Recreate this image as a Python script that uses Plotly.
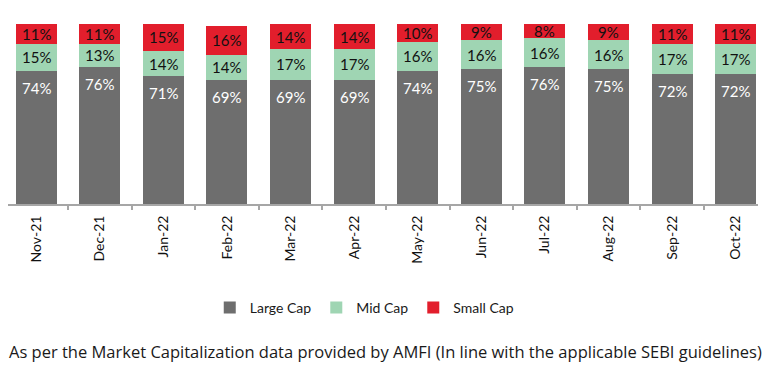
import plotly.graph_objects as go

months = ["Nov-21", "Dec-21", "Jan-22", "Feb-22", "Mar-22", "Apr-22",
          "May-22", "Jun-22", "Jul-22", "Aug-22", "Sep-22", "Oct-22"]
large_cap = [74, 76, 71, 69, 69, 69, 74, 75, 76, 75, 72, 72]
mid_cap = [15, 13, 14, 14, 17, 17, 16, 16, 16, 16, 17, 17]
small_cap = [11, 11, 15, 16, 14, 14, 10, 9, 8, 9, 11, 11]

C_LARGE = "#6e6e6e"
C_MID = "#9fd5b3"
C_SMALL = "#e21e2c"
LBL_FONT = "Lato"

fig = go.Figure()
fig.add_trace(go.Bar(name="Large Cap", x=months, y=large_cap, marker_color=C_LARGE,
                     marker_line_width=0, hoverinfo="skip"))
fig.add_trace(go.Bar(name="Mid Cap", x=months, y=mid_cap, marker_color=C_MID,
                     marker_line_width=0, hoverinfo="skip"))
fig.add_trace(go.Bar(name="Small Cap", x=months, y=small_cap, marker_color=C_SMALL,
                     marker_line_width=0, hoverinfo="skip"))

annotations = []
for m, l, md, s in zip(months, large_cap, mid_cap, small_cap):
    annotations.append(dict(x=m, y=l, yshift=-17, text=f"{l}%", showarrow=False,
                            font=dict(family=LBL_FONT, size=15, color="white"),
                            xref="x", yref="y", yanchor="middle"))
    annotations.append(dict(x=m, y=l + md / 2, text=f"{md}%", showarrow=False,
                            font=dict(family=LBL_FONT, size=15, color="#111111"),
                            xref="x", yref="y", yanchor="middle"))
    annotations.append(dict(x=m, y=l + md + s / 2, text=f"{s}%", showarrow=False,
                            font=dict(family=LBL_FONT, size=15, color="#111111"),
                            xref="x", yref="y", yanchor="middle"))

annotations.append(dict(
    text="As per the Market Capitalization data provided by AMFI (In line with the applicable SEBI guidelines)",
    xref="paper", yref="paper", x=0.503, y=-0.804, showarrow=False,
    xanchor="center", yanchor="middle",
    font=dict(family="Open Sans", size=16.5, color="#1a1a1a")))

fig.update_layout(
    barmode="stack",
    bargap=0.355,
    width=769, height=375,
    margin=dict(l=8, r=11, t=20, b=171),
    paper_bgcolor="white", plot_bgcolor="white",
    showlegend=True,
    legend=dict(orientation="h", x=0.475, xanchor="center", y=-0.565, yanchor="middle",
                font=dict(family=LBL_FONT, size=14, color="#1a1a1a"),
                itemwidth=30, traceorder="normal"),
    annotations=annotations,
    xaxis=dict(range=[-0.443, 11.35], showline=True, linecolor="#a6a6a6", linewidth=2,
               ticks="outside", tickson="boundaries", ticklen=4, tickwidth=2,
               tickcolor="#a6a6a6", tickangle=-90, ticklabelstandoff=4,
               tickfont=dict(family=LBL_FONT, size=14, color="#111111"),
               showgrid=False, zeroline=False),
    yaxis=dict(range=[0, 102.2], visible=False, showgrid=False, zeroline=False),
)

fig.write_html("out.html", config={"displayModeBar": False},
               post_script="document.body.style.margin='0';document.body.style.overflow='hidden';")
